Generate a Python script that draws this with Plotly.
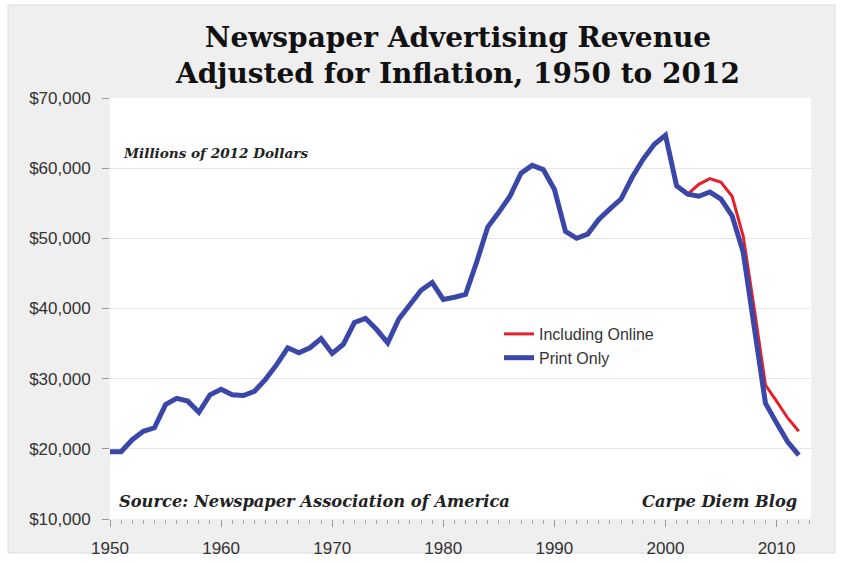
import plotly.graph_objects as go

years = list(range(1950, 2013))
print_only = [
    19600, 19600, 21300, 22500, 23000, 26300, 27200, 26800, 25200, 27700,
    28500, 27700, 27600, 28200, 29900, 32000, 34400, 33700, 34400, 35700,
    33600, 34900, 38000, 38600, 37000, 35100, 38500, 40600, 42600, 43700,
    41300, 41600, 42000, 46600, 51600, 53700, 56000, 59300, 60400, 59800,
    57000, 51000, 50000, 50600, 52700, 54200, 55600, 58700, 61300, 63400,
    64700, 57500, 56300, 56000, 56600, 55600, 53200, 48000, 37500, 26500,
    23700, 21000, 19100,
]
online_years = list(range(2002, 2013))
incl_online = [56300, 57700, 58500, 58000, 56000, 50300, 39900, 29100, 26800, 24400, 22500]

title_lines = ["Newspaper Advertising Revenue", "Adjusted for Inflation, 1950 to 2012"]
series_names = ["Including Online", "Print Only"]
y_ticks = [10000, 20000, 30000, 40000, 50000, 60000, 70000]
y_tick_labels = ["$" + format(v, ",d") for v in y_ticks]

W, H = 842, 563
L, R, T, B = 110, 31, 98, 44
pw, ph = W - L - R, H - T - B

def px_x(p):
    return (p - L) / pw

def px_y(p):
    return (H - B - p) / ph

fig = go.Figure()
fig.add_trace(go.Scatter(x=online_years, y=incl_online, mode="lines", name=series_names[0],
                         line=dict(color="#e3212b", width=3)))
fig.add_trace(go.Scatter(x=years, y=print_only, mode="lines", name=series_names[1],
                         line=dict(color="#3a47a9", width=5)))

serif = "DejaVu Serif"
fig.update_layout(
    width=W, height=H,
    margin=dict(l=L, r=R, t=T, b=B),
    paper_bgcolor="white",
    plot_bgcolor="white",
    title=dict(text="<b>" + "<br>".join(title_lines) + "</b>",
               font=dict(family=serif, size=28, color="#111"),
               x=458 / W, xanchor="center", xref="container",
               y=1 - 47 / H, yanchor="top", yref="container"),
    showlegend=True,
    legend=dict(x=px_x(499), y=px_y(317), xanchor="left", yanchor="top",
                bgcolor="rgba(0,0,0,0)", font=dict(family="Arial", size=16, color="#333"),
                tracegroupgap=0),
    shapes=[
        dict(type="rect", xref="paper", yref="paper", layer="below",
             x0=px_x(8), x1=px_x(835), y0=px_y(553), y1=px_y(5),
             fillcolor="#efefef", line=dict(color="#dcdcdc", width=1)),
        dict(type="rect", xref="paper", yref="paper", layer="below",
             x0=0, x1=1, y0=0, y1=1, fillcolor="white", line=dict(width=0)),
    ],
    annotations=[
        dict(text="<b><i>Millions of 2012 Dollars</i></b>", xref="paper", yref="paper",
             x=px_x(121), y=px_y(153), xanchor="left", yanchor="middle", showarrow=False,
             font=dict(family=serif, size=13.6, color="#222")),
        dict(text="<b><i>Source: Newspaper Association of America</i></b>", xref="paper", yref="paper",
             x=px_x(117), y=px_y(501), xanchor="left", yanchor="middle", showarrow=False,
             font=dict(family=serif, size=16.3, color="#222")),
        dict(text="<b><i>Carpe Diem Blog</i></b>", xref="paper", yref="paper",
             x=px_x(799), y=px_y(501), xanchor="right", yanchor="middle", showarrow=False,
             font=dict(family=serif, size=16.3, color="#222")),
    ],
)

fig.update_xaxes(range=[1950, 2013.1], tickmode="linear", tick0=1950, dtick=10,
                 ticks="outside", ticklen=7, tickcolor="#999", tickwidth=1,
                 minor=dict(dtick=1, tick0=1950, ticks="outside", ticklen=4, tickcolor="#aaa", showgrid=False),
                 showgrid=False, zeroline=False, showline=False, automargin=False,
                 tickfont=dict(family="Arial", size=17, color="#333"), ticklabelstandoff=7)
fig.update_yaxes(range=[10000, 70000], tickmode="array", tickvals=y_ticks, ticktext=y_tick_labels,
                 ticks="outside", ticklen=7, tickcolor="#999", tickwidth=1, automargin=False,
                 showgrid=True, gridcolor="#e6e6e6", gridwidth=1, zeroline=False, showline=False,
                 tickfont=dict(family="Arial", size=17, color="#333"), ticklabelstandoff=8)

fig.write_html("out.html")
